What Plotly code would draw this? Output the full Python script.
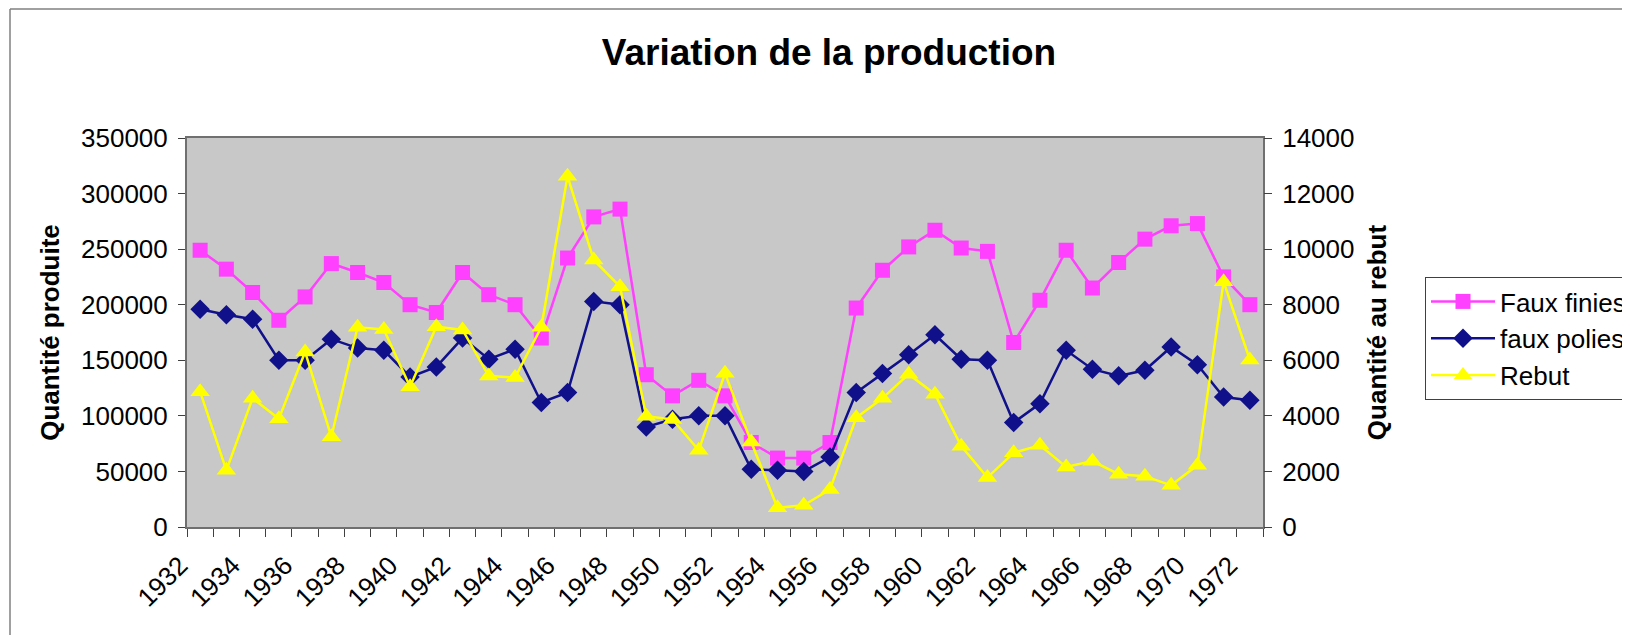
import plotly.graph_objects as go

years = list(range(1932, 1973))
faux_finies = [249000, 232000, 211000, 186000, 207000, 237000, 229000, 220000, 200000, 193000,
               229000, 209000, 200000, 170000, 242000, 279000, 286000, 137000, 118000, 132000,
               118000, 76000, 62000, 62000, 76000, 197000, 231000, 252000, 267000, 251000,
               248000, 166000, 204000, 249000, 215000, 238000, 259000, 271000, 273000, 225000,
               200000]
faux_polies = [196000, 191000, 187000, 150000, 150000, 169000, 161000, 159000, 135000, 144000,
               170000, 151000, 160000, 112000, 121000, 203000, 200000, 90000, 97000, 100000,
               100000, 52000, 51000, 50000, 63000, 121000, 138000, 155000, 173000, 151000,
               150000, 94000, 111000, 159000, 142000, 136000, 141000, 162000, 146000, 117000,
               114000]
rebut = [4870, 2040, 4630, 3900, 6300, 3250, 7190, 7110, 5050, 7210,
         7090, 5430, 5380, 7190, 12620, 9610, 8650, 3990, 3870, 2760,
         5530, 3060, 690, 780, 1350, 3930, 4630, 5500, 4780, 2910,
         1780, 2670, 2940, 2160, 2370, 1900, 1830, 1500, 2220, 8830,
         6010]
label_years = years[::2]
label_text = [str(y) for y in label_years]
boundaries = [y - 0.5 for y in years] + [years[-1] + 0.5]

FONT = "Liberation Sans, Arial, sans-serif"
TICKC = "#404040"
LINEC = "#707070"

# figure is placed by the page with an 8px body margin: work in figure coordinates
W, H = 1622, 627
L, R, T, B = 179, 1255, 130, 519   # plot-area edges in figure pixels
PW, PH = R - L, B - T

fig = go.Figure()
fig.add_trace(go.Scatter(x=years, y=faux_finies, name="Faux finies", mode="lines+markers",
                         line=dict(color="#ff40ff", width=2.5),
                         marker=dict(symbol="square", size=15, color="#ff40ff"),
                         legendgroup="a"))
fig.add_trace(go.Scatter(x=years, y=faux_polies, name="faux polies", mode="lines+markers",
                         line=dict(color="#10108a", width=2.5),
                         marker=dict(symbol="diamond", size=15, color="#10108a"),
                         legendgroup="b"))
fig.add_trace(go.Scatter(x=years, y=rebut, name="Rebut", mode="lines+markers", yaxis="y2",
                         line=dict(color="#ffff00", width=2.5),
                         marker=dict(symbol="triangle-up", size=17, color="#ffff00"),
                         legendgroup="c"))

xr = [years[0] - 0.5, years[-1] + 0.5]

fig.update_layout(
    width=W, height=H,
    margin=dict(l=L, r=W - R, t=T, b=H - B, autoexpand=False),
    paper_bgcolor="white", plot_bgcolor="#c8c8c8",
    font=dict(family=FONT, size=26, color="black"),
    title=dict(text="Variation de la production", x=821 / W, xref="container", xanchor="center",
               y=1 - 44 / H, yref="container", yanchor="middle", automargin=False,
               font=dict(family=FONT, size=37, weight="bold", color="black")),
    xaxis=dict(range=xr, tickmode="array", tickvals=label_years, ticktext=label_text,
               tickangle=-45, ticks="outside", ticklen=8, tickcolor="rgba(0,0,0,0)",
               tickfont=dict(size=26), ticklabelshift=-20, ticklabelstandoff=3,
               automargin=False,
               minor=dict(tickmode="array", tickvals=boundaries, ticks="outside", ticklen=8,
                          tickcolor=TICKC, tickwidth=1, showgrid=False),
               showgrid=False, zeroline=False, showline=True, linecolor=LINEC, linewidth=2,
               mirror=True),
    yaxis=dict(range=[0, 350000], dtick=50000, tickformat="d", ticks="outside", ticklen=7,
               tickcolor=TICKC, showgrid=False, zeroline=False, showline=True,
               linecolor=LINEC, linewidth=2, mirror=True, ticklabelstandoff=5, automargin=False,
               title=dict(text="Quantité produite", standoff=14,
                          font=dict(family=FONT, size=26, weight="bold"))),
    yaxis2=dict(range=[0, 14000], dtick=2000, tickformat="d", overlaying="y", side="right",
                anchor="x", ticks="outside", ticklen=8, tickcolor=TICKC, showgrid=False,
                zeroline=False, showline=False, ticklabelstandoff=5, automargin=False,
                title=dict(text="Quantité au rebut", standoff=14,
                           font=dict(family=FONT, size=26, weight="bold"))),
    xaxis2=dict(range=xr, overlaying="x", anchor="y", side="bottom", tickmode="array",
                tickvals=boundaries, ticks="inside", ticklen=7, tickcolor=TICKC,
                showticklabels=False, showgrid=False, zeroline=False, showline=False,
                automargin=False),
    yaxis3=dict(range=[0, 350000], dtick=50000, overlaying="y", side="left", anchor="x",
                ticks="inside", ticklen=5, tickcolor=TICKC, showticklabels=False,
                showgrid=False, zeroline=False, showline=False, automargin=False),
    yaxis4=dict(range=[0, 14000], dtick=2000, overlaying="y", side="right", anchor="x",
                ticks="inside", ticklen=7, tickcolor=TICKC, showticklabels=False,
                showgrid=False, zeroline=False, showline=False, automargin=False),
    legend=dict(xref="container", yref="container", x=1417 / W, y=1 - 269 / H,
                xanchor="left", yanchor="top", bgcolor="white", bordercolor="#404040",
                borderwidth=1, font=dict(family=FONT, size=26), itemwidth=64,
                tracegroupgap=0, traceorder="normal"),
    shapes=[
        dict(type="line", xref="paper", yref="paper", x0=(2 - L) / PW, x1=2.0,
             y0=(B - 1) / PH, y1=(B - 1) / PH, line=dict(color="#808080", width=1.5)),
        dict(type="line", xref="paper", yref="paper", x0=(2 - L) / PW, x1=(2 - L) / PW,
             y0=-2.0, y1=(B - 1) / PH, line=dict(color="#808080", width=1.5)),
    ],
)

fig.write_html("out.html")
